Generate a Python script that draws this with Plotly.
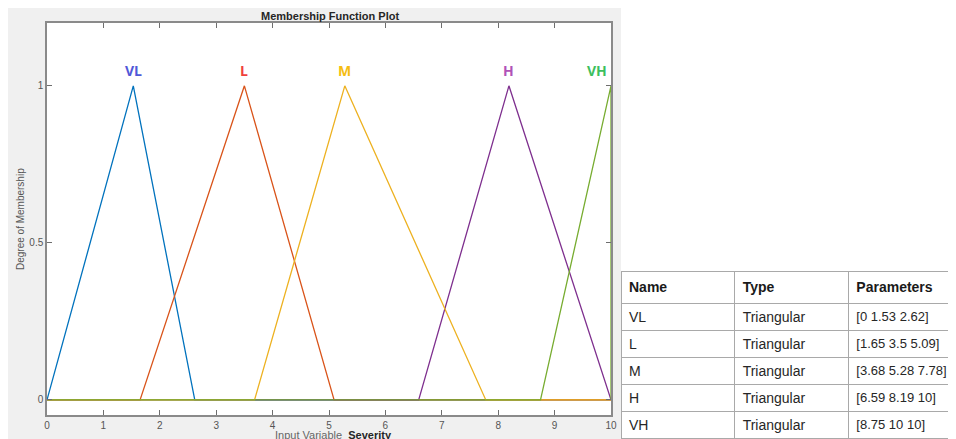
import plotly.graph_objects as go

# Page body has an 8px margin, so the figure is 8px smaller and offset.
OFF = 8
W, H = 956 - OFF, 439 - OFF

names = ["VL", "L", "M", "H", "VH"]
types = ["Triangular"] * 5
params = [
    [0, 1.53, 2.62],
    [1.65, 3.5, 5.09],
    [3.68, 5.28, 7.78],
    [6.59, 8.19, 10],
    [8.75, 10, 10],
]
param_text = ["[0 1.53 2.62]", "[1.65 3.5 5.09]", "[3.68 5.28 7.78]", "[6.59 8.19 10]", "[8.75 10 10]"]
x_range = [0, 10]
line_colors = {"VL": "#0072BD", "L": "#D95319", "M": "#EDB120", "H": "#7E2F8E", "VH": "#77AC30"}
label_colors = {"VL": "#5158d8", "L": "#f0413c", "M": "#f5bd12", "H": "#b052b8", "VH": "#3dbf5e"}
draw_order = ["VL", "L", "H", "M", "VH"]

def px(x):
    return max(0.0, min(1.0, (x - OFF) / W))

def py(y):
    return max(0.0, min(1.0, 1 - (y - OFF) / H))

fig = go.Figure()

for nm in draw_order:
    a, b, c = params[names.index(nm)]
    xs = [x_range[0], a, b, c, x_range[1]]
    ys = [0, 0, 1, 0, 0]
    fig.add_trace(go.Scatter(x=xs, y=ys, mode="lines", line=dict(color=line_colors[nm], width=1.3),
                             showlegend=False, hoverinfo="skip", cliponaxis=False))

for nm, p in zip(names, params):
    lx = p[1] if nm != "VH" else 9.75
    fig.add_annotation(x=lx, y=1.012, xref="x", yref="y", text="<b>%s</b>" % nm, showarrow=False,
                       font=dict(family="Open Sans, Arial", size=14, color=label_colors[nm]),
                       yanchor="bottom", xanchor="center")

nb = lambda s: s.replace(" ", "\u00a0")

fig.add_trace(go.Table(
    domain=dict(x=[px(621), 1.0], y=[py(439), py(271)]),
    columnwidth=[114, 114, 107],
    header=dict(values=["<b>Name</b>", "<b>Type</b>", "<b>Parameters</b>"], height=27, align="left",
                fill_color="white", line_color="#a9a9a9",
                font=dict(family="Arial", size=14, color="#1a1a1a")),
    cells=dict(values=[names, types, [nb(t) for t in param_text]], height=27, align="left",
               fill_color="white", line_color="#a9a9a9",
               font=dict(family="Arial", size=[14, 14, 13], color="#262626")),
))

fig.update_layout(
    width=W, height=H,
    margin=dict(l=0, r=0, t=0, b=0, autoexpand=False),
    paper_bgcolor="white",
    plot_bgcolor="white",
    showlegend=False,
    shapes=[dict(type="rect", xref="paper", yref="paper", x0=px(7), x1=px(621), y0=0, y1=py(8),
                 fillcolor="#f0f0f0", line=dict(width=0), layer="below"),
            dict(type="rect", xref="paper", yref="paper", x0=px(47), x1=px(611), y0=py(415), y1=py(23),
                 fillcolor="white", line=dict(width=0), layer="below")],
    xaxis=dict(domain=[px(47), px(611)], range=[0, 10], tickvals=list(range(0, 11)), automargin=False,
               ticks="inside", ticklen=5, tickcolor="#6e6e6e", showline=True, linecolor="#8a8a8a",
               linewidth=1.5, mirror="ticks", showgrid=False, zeroline=False,
               tickfont=dict(family="Arial", size=10, color="#555555")),
    yaxis=dict(domain=[py(415), py(23)], range=[-0.048, 1.2], tickvals=[0, 0.5, 1], automargin=False,
               ticktext=["0", "0.5", "1"],
               ticks="inside", ticklen=5, tickcolor="#6e6e6e", showline=True, linecolor="#8a8a8a",
               linewidth=1.5, mirror="ticks", showgrid=False, zeroline=False,
               tickfont=dict(family="Arial", size=10, color="#555555")),
    annotations=list(fig.layout.annotations) + [
        dict(x=px(330), y=py(16), xref="paper", yref="paper", showarrow=False,
             xanchor="center", yanchor="middle",
             text="<b>Membership Function Plot</b>",
             font=dict(family="Arial", size=11, color="#262626")),
        dict(x=px(20), y=py(219), xref="paper", yref="paper", showarrow=False, textangle=-90,
             xanchor="center", yanchor="middle",
             text="Degree of Membership", font=dict(family="Arial", size=10, color="#555555")),
        dict(x=px(333), y=py(435), xref="paper", yref="paper", showarrow=False,
             xanchor="center", yanchor="middle",
             text="Input Variable  <b><span style='color:#262626'>Severity</span></b>",
             font=dict(family="Arial", size=11, color="#666666")),
    ],
)

fig.write_html("out.html")
